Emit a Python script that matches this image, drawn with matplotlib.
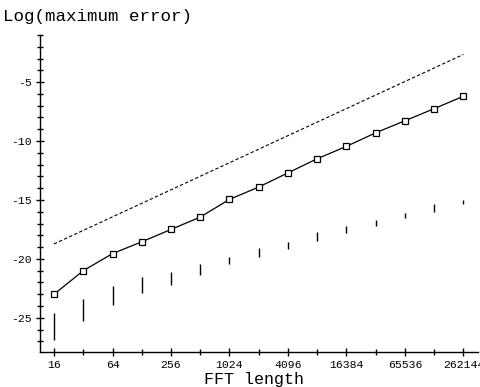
import matplotlib
matplotlib.use("Agg")
import matplotlib.pyplot as plt
from matplotlib.ticker import FixedLocator, MultipleLocator, NullFormatter

plt.rcParams['axes.unicode_minus'] = False
plt.rcParams['font.family'] = ['Liberation Mono', 'DejaVu Sans Mono']

# FFT lengths as powers of two
exponents = list(range(4, 19))
fft_lengths = [2 ** e for e in exponents]

# solid line (maximum error)
max_error = [-23.0, -21.0, -19.55, -18.55, -17.5, -16.45, -14.95, -13.9,
             -12.7, -11.5, -10.45, -9.3, -8.28, -7.25, -6.2]

# dashed reference line endpoints
ref_x = [16, 262144]
ref_y = [-18.73, -2.65]

# vertical range bars (low, high)
range_low = [-26.9, -25.3, -23.95, -22.9, -22.2, -21.35, -20.45, -19.8,
             -19.15, -18.47, -17.8, -17.2, -16.5, -16.0, -15.3]
range_high = [-24.55, -23.4, -22.3, -21.5, -21.15, -20.4, -19.85, -19.1,
              -18.6, -17.7, -17.2, -16.7, -16.1, -15.35, -15.0]

tick_labels = ['16', '64', '256', '1024', '4096', '16384', '65536', '262144']

fig = plt.figure(figsize=(4.8, 3.87), dpi=100)
ax = fig.add_axes([40 / 480, 1 - 352 / 387, 438 / 480, (352 - 35) / 387])

ax.plot(ref_x, ref_y, color='black', lw=0.8, dashes=(3, 2))
ax.plot(fft_lengths, max_error, color='black', lw=0.9, marker='s', ms=3.8,
        mfc='white', mec='black', mew=0.9)
ax.vlines(fft_lengths, range_low, range_high, color='black', lw=1.0)

ax.set_xscale('log', base=2)
ax.set_xlim(2 ** 3.52, 2 ** 18.5)
ax.set_ylim(-27.9, -1.0)

ax.xaxis.set_major_locator(FixedLocator([16 * 4 ** i for i in range(8)]))
ax.xaxis.set_minor_locator(FixedLocator([32 * 4 ** i for i in range(8)]))
ax.xaxis.set_minor_formatter(NullFormatter())
ax.set_xticklabels(tick_labels)

ax.yaxis.set_major_locator(FixedLocator([-25, -20, -15, -10, -5]))
ax.yaxis.set_minor_locator(MultipleLocator(1))

for s in ['top', 'right']:
    ax.spines[s].set_visible(False)
for s in ['left', 'bottom']:
    ax.spines[s].set_linewidth(1.0)

ax.tick_params(which='major', direction='inout', length=6, width=1.0,
               labelsize=8.2, pad=3)
ax.tick_params(which='minor', direction='inout', length=4, width=1.0)

fig.text(3 / 480, 1 - 17 / 387, 'Log(maximum error)', fontsize=12.6,
         ha='left', va='center')
fig.text(254 / 480, 1 - 372 / 387, 'FFT length', fontsize=12,
         ha='center', va='top')

fig.savefig('out.png', dpi=100)
